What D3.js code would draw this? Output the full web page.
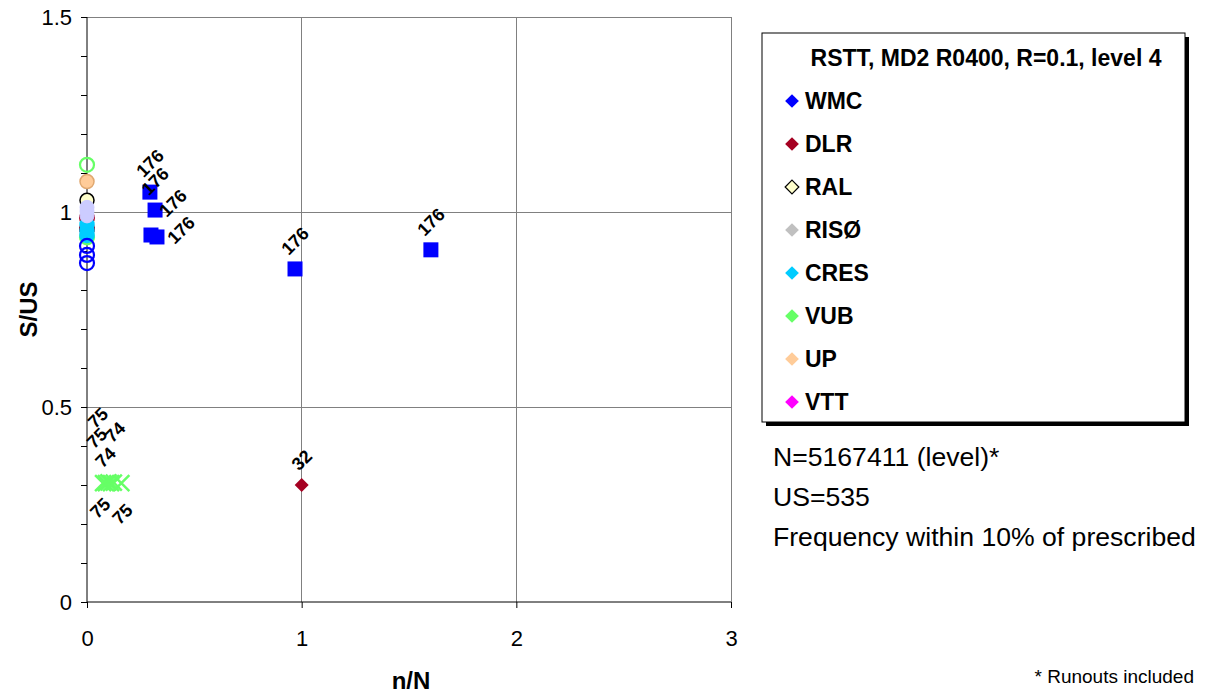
<!DOCTYPE html>
<html>
<head>
<meta charset="utf-8">
<script src="https://cdn.jsdelivr.net/npm/d3@7"></script>
<style>
  html, body { margin: 0; padding: 0; background: #fff; }
  svg { display: block; font-family: "Liberation Sans", Arial, sans-serif; }
</style>
</head>
<body>
<svg id="chart" width="1209" height="695"></svg>
<script>
// ---------------- DATA ----------------
const xTickValues = [0, 1, 2, 3];
const yTickValues = [0, 0.5, 1, 1.5];
const yMinorTicks = [0, 0.1, 0.2, 0.3, 0.4, 0.5, 0.6, 0.7, 0.8, 0.9, 1.0, 1.1, 1.2, 1.3, 1.4, 1.5];

// WMC filled squares (with data labels)
const wmcSquareX = [0.293, 0.317, 0.298, 0.326, 0.969, 1.602];
const wmcSquareY = [1.051, 1.005, 0.941, 0.936, 0.854, 0.903];
const wmcSquareLabels = ["176", "176", "176", "176", "176", "176"];

// DLR diamond
const dlrX = [1.0];
const dlrY = [0.30];
const dlrLabels = ["32"];

// VUB crosses
const vubCrossX = [0.075, 0.088, 0.100, 0.112, 0.125, 0.160];
const vubCrossY = [0.305, 0.305, 0.307, 0.305, 0.306, 0.305];
const vubCrossLabels = ["75", "75", "74", "74", "75", "75"];

// circles at n/N = 0
const vubCircleY  = [1.121, 0.935];
const upCircleY   = [1.078];
const ralCircleY  = [1.030, 0.955];
const dlrCircleY  = [0.985, 0.958];
const cresCircleY = [0.968, 0.952, 0.940];
const risoCircleY = [1.012, 1.002, 0.990];
const wmcCircleY  = [0.913, 0.890, 0.869];

// legend
const legendTitle = "RSTT, MD2 R0400, R=0.1, level 4";
const legendNames = ["WMC", "DLR", "RAL", "RISØ", "CRES", "VUB", "UP", "VTT"];

const infoLines = ["N=5167411 (level)*", "US=535", "Frequency within 10% of prescribed"];
const footnote = "* Runouts included";

// ---------------- STYLE ----------------
const colors = {
  WMC: "#0000FF", DLR: "#A50021", RAL: "#FFFFCC", "RISØ": "#C0C0C0",
  CRES: "#00CCFF", VUB: "#66FF66", UP: "#FFCC99", VTT: "#FF00FF",
  risoCircle: "#CCCCFF"
};

// ---------------- LAYOUT ----------------
const svg = d3.select("#chart");
const x = d3.scaleLinear().domain([0, 3]).range([87, 731]);
const y = d3.scaleLinear().domain([0, 1.5]).range([602, 17]);

// gridlines
const grid = svg.append("g");
grid.selectAll("line.h").data(yTickValues.filter(v => v > 0)).join("line")
  .attr("x1", x(0)).attr("x2", x(3))
  .attr("y1", d => y(d)).attr("y2", d => y(d))
  .attr("stroke", "#808080").attr("stroke-width", 1).attr("shape-rendering", "crispEdges");
grid.selectAll("line.v").data(xTickValues.filter(v => v > 0)).join("line")
  .attr("y1", y(0)).attr("y2", y(1.5))
  .attr("x1", d => x(d)).attr("x2", d => x(d))
  .attr("stroke", "#808080").attr("stroke-width", 1).attr("shape-rendering", "crispEdges");

// axes
const yAxis = d3.axisLeft(y).tickValues(yMinorTicks).tickSize(6).tickFormat("");
const yAxisG = svg.append("g").attr("transform", `translate(${x(0)},0)`).call(yAxis);
yAxisG.select(".domain").attr("stroke", "#000").attr("d", `M0,${y(1.5)}V${y(0)}`);
yAxisG.selectAll(".tick line").attr("stroke", "#000");

const yLabels = d3.axisLeft(y).tickValues(yTickValues).tickSize(0).tickPadding(15)
  .tickFormat(d => d === 0 ? "0" : (d === 1 ? "1" : d3.format(".1f")(d)));
const yLabG = svg.append("g").attr("transform", `translate(${x(0)},0)`).call(yLabels);
yLabG.select(".domain").remove();
yLabG.selectAll("text").attr("font-size", 22).attr("fill", "#000")
  .attr("font-family", "Liberation Sans, Arial, sans-serif");

const xAxis = d3.axisBottom(x).tickValues(xTickValues).tickSize(6).tickPadding(20).tickFormat(d3.format("d"));
const xAxisG = svg.append("g").attr("transform", `translate(0,${y(0)})`).call(xAxis);
xAxisG.select(".domain").attr("stroke", "#000").attr("d", `M${x(0)},0H${x(3)}`);
xAxisG.selectAll(".tick line").attr("stroke", "#000");
xAxisG.selectAll("text").attr("font-size", 22).attr("fill", "#000")
  .attr("font-family", "Liberation Sans, Arial, sans-serif").attr("dy", "0.8em");

// axis titles
svg.append("text").attr("x", 411).attr("y", 689).attr("text-anchor", "middle")
  .attr("font-size", 24).attr("font-weight", "bold").text("n/N");
svg.append("text").attr("transform", `translate(37,${y(0.75)}) rotate(-90)`)
  .attr("text-anchor", "middle").attr("font-size", 24).attr("font-weight", "bold").text("S/US");

// ---------------- MARKS ----------------
const plot = svg.append("g");
const r = 7;

function circles(ys, fill, stroke, sw) {
  plot.append("g").selectAll("circle").data(ys).join("circle")
    .attr("cx", x(0)).attr("cy", d => y(d)).attr("r", r)
    .attr("fill", fill).attr("stroke", stroke).attr("stroke-width", sw);
}
circles(vubCircleY, "none", colors.VUB, 2.2);
circles(upCircleY, colors.UP, "#E0A870", 1.5);
circles(ralCircleY, colors.RAL, "#000", 1.5);
circles(dlrCircleY, "none", colors.DLR, 2);
circles(cresCircleY, colors.CRES, colors.CRES, 1.5);
circles(risoCircleY, colors.risoCircle, colors.risoCircle, 1);
circles(wmcCircleY, "none", colors.WMC, 2.2);

// WMC squares
const sq = 15;
const wmcSquares = wmcSquareX.map((v, i) => ({ x: v, y: wmcSquareY[i], label: wmcSquareLabels[i] }));
plot.append("g").selectAll("rect").data(wmcSquares).join("rect")
  .attr("x", d => x(d.x) - sq / 2).attr("y", d => y(d.y) - sq / 2)
  .attr("width", sq).attr("height", sq).attr("fill", colors.WMC);

// DLR diamond
const dlrPts = dlrX.map((v, i) => ({ x: v, y: dlrY[i], label: dlrLabels[i] }));
const diamond = d3.symbol().type(d3.symbolDiamond2).size(125);
plot.append("g").selectAll("path").data(dlrPts).join("path")
  .attr("transform", d => `translate(${x(d.x)},${y(d.y)})`)
  .attr("d", diamond()).attr("fill", colors.DLR);

// VUB crosses
const vubPts = vubCrossX.map((v, i) => ({ x: v, y: vubCrossY[i], label: vubCrossLabels[i] }));
const cr = 8;
const crossG = plot.append("g").selectAll("g").data(vubPts).join("g")
  .attr("transform", d => `translate(${x(d.x)},${y(d.y)})`);
crossG.append("path").attr("d", `M${-cr},${-cr}L${cr},${cr}M${-cr},${cr}L${cr},${-cr}`)
  .attr("stroke", colors.VUB).attr("stroke-width", 2.5).attr("fill", "none");

// data labels (rotated -45deg), offset from each point
const labelFont = 18;
function labels(pts, offsets) {
  plot.append("g").selectAll("text").data(pts).join("text")
    .attr("transform", (d, i) => {
      const o = offsets[i];
      return `translate(${x(d.x) + o[0]},${y(d.y) + o[1]}) rotate(-45)`;
    })
    .attr("text-anchor", "middle").attr("dy", "0.35em")
    .attr("font-size", labelFont).attr("font-weight", "bold").attr("fill", "#000")
    .text(d => d.label);
}
labels(wmcSquares, [[0, -29], [0, -29], [22, -32], [24, -7], [0, -28], [0, -28]]);
labels(dlrPts, [[0, -25]]);
labels(vubPts, [[-3, 25], [-9, -45], [-3, -25], [4, -51], [-16, -65], [1, 31]]);

// ---------------- LEGEND ----------------
const lg = svg.append("g");
const lx = 762, ly = 33, lw = 423, lh = 389;
lg.append("rect").attr("x", lx + 4).attr("y", ly + 4).attr("width", lw).attr("height", lh).attr("fill", "#000");
lg.append("rect").attr("x", lx).attr("y", ly).attr("width", lw).attr("height", lh)
  .attr("fill", "#fff").attr("stroke", "#000").attr("stroke-width", 1);
lg.append("text").attr("x", 986).attr("y", 66).attr("text-anchor", "middle")
  .attr("font-size", 23).attr("font-weight", "bold").text(legendTitle);
const legendItem = lg.selectAll("g.item").data(legendNames).join("g")
  .attr("transform", (d, i) => `translate(792,${101 + i * 43})`);
legendItem.append("path").attr("d", d3.symbol().type(d3.symbolDiamond2).size(120)())
  .attr("fill", d => colors[d])
  .attr("stroke", d => d === "RAL" ? "#000" : "none").attr("stroke-width", 1.2);
legendItem.append("text").attr("x", 13).attr("dy", "0.36em")
  .attr("font-size", 23).attr("font-weight", "bold").text(d => d);

// info text
svg.append("g").selectAll("text").data(infoLines).join("text")
  .attr("x", 773).attr("y", (d, i) => 466 + i * 40)
  .attr("font-size", 26.6).attr("fill", "#000").text(d => d);
svg.append("text").attr("x", 1194).attr("y", 683).attr("text-anchor", "end")
  .attr("font-size", 19).attr("fill", "#000").text(footnote);
</script>
</body>
</html>
